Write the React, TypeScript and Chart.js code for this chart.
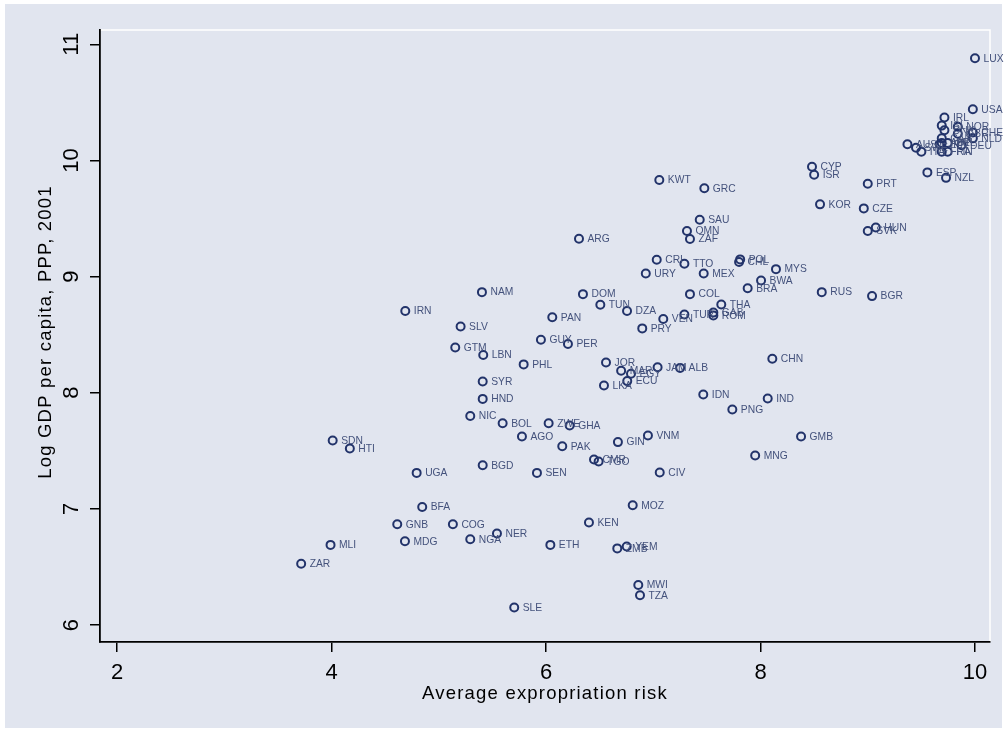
import React, { useEffect, useRef } from "react";
import { Chart, registerables } from "chart.js";

Chart.register(...registerables);

const countryCodes = [
  "LUX", "USA", "IRL", "ISL", "DNK", "NOR", "GBR", "CHE", "NLD", "CAN", "AUT", "BEL", "DEU", "JPN", "AUS", "SWE", "ITA", "FRA", "FIN",
  "ESP", "NZL", "PRT", "CYP", "ISR", "KWT", "GRC", "KOR", "CZE", "SAU", "OMN", "ZAF", "HUN", "SVK", "ARG",
  "CRI", "TTO", "POL", "CHL", "MYS", "URY", "MEX", "BWA", "BRA", "COL", "RUS", "BGR", "NAM", "DOM", "IRN",
  "TUN", "DZA", "THA", "TUR", "GAB", "ROM", "VEN", "PAN", "SLV", "PRY", "GUY", "PER", "GTM", "LBN", "PHL",
  "JOR", "MAR", "EGY", "JAM", "ALB", "CHN", "ECU", "LKA", "SYR", "IDN", "IND", "HND", "PNG", "NIC", "BOL",
  "ZWE", "GHA", "VNM", "AGO", "GMB", "SDN", "GIN", "PAK", "HTI", "MNG", "CMR", "TGO", "BGD", "UGA", "SEN",
  "CIV", "MOZ", "BFA", "KEN", "GNB", "COG", "NER", "NGA", "MDG", "MLI", "ETH", "ZMB", "YEM", "ZAR", "MWI",
  "TZA", "SLE",
];

const expropriationRisk = [
  10.0, 9.98, 9.715, 9.69, 9.715, 9.84, 9.84, 9.98, 9.98, 9.69, 9.69, 9.745, 9.875, 9.67, 9.37, 9.45, 9.5, 9.69, 9.745,
  9.556, 9.73, 9.0, 8.48, 8.5, 7.056, 7.476, 8.555, 8.963, 7.433, 7.314, 7.342, 9.075, 9.0, 6.307,
  7.032, 7.29, 7.81, 7.8, 8.144, 6.93, 7.47, 8.005, 7.88, 7.342, 8.571, 9.04, 5.402, 6.344, 4.687,
  6.506, 6.755, 7.634, 7.29, 7.56, 7.56, 7.093, 6.058, 5.203, 6.897, 5.952, 6.204, 5.153, 5.414, 5.791,
  6.559, 6.7, 6.792, 7.04, 7.25, 8.11, 6.757, 6.54, 5.409, 7.466, 8.067, 5.409, 7.737, 5.293, 5.595,
  6.024, 6.22, 6.95, 5.775, 8.378, 4.01, 6.67, 6.151, 4.17, 7.95, 6.447, 6.49, 5.409, 4.793, 5.915,
  7.06, 6.808, 4.845, 6.4, 4.612, 5.131, 5.542, 5.293, 4.684, 3.99, 6.04, 6.664, 6.752, 3.716, 6.86,
  6.876, 5.703,
];

const logGdp2001 = [
  10.88, 10.44, 10.37, 10.3, 10.26, 10.29, 10.23, 10.24, 10.19, 10.19, 10.15, 10.15, 10.13, 10.14, 10.14, 10.11, 10.075, 10.075, 10.075,
  9.897, 9.85, 9.8, 9.946, 9.877, 9.831, 9.76, 9.622, 9.587, 9.489, 9.392, 9.323, 9.423, 9.392, 9.326,
  9.145, 9.11, 9.148, 9.125, 9.064, 9.027, 9.027, 8.966, 8.9, 8.849, 8.866, 8.832, 8.866, 8.849, 8.703,
  8.757, 8.703, 8.76, 8.673, 8.69, 8.666, 8.635, 8.65, 8.571, 8.554, 8.456, 8.419, 8.39, 8.325, 8.244,
  8.261, 8.189, 8.163, 8.22, 8.214, 8.292, 8.1, 8.063, 8.097, 7.985, 7.951, 7.947, 7.856, 7.8, 7.738,
  7.738, 7.718, 7.632, 7.624, 7.624, 7.589, 7.575, 7.54, 7.52, 7.46, 7.425, 7.408, 7.376, 7.31, 7.31,
  7.314, 7.032, 7.017, 6.883, 6.868, 6.868, 6.788, 6.739, 6.722, 6.69, 6.69, 6.66, 6.676, 6.527, 6.345,
  6.257, 6.151,
];

const xTickValues = [2, 4, 6, 8, 10];
const yTickValues = [6, 7, 8, 9, 10, 11];
const xAxisTitle = "Average expropriation risk";
const yAxisTitle = "Log GDP per capita, PPP, 2001";

const BG = "#e1e5ef";
const MARKER = "#22336a";
const LABEL = "#44527c";
const FONT = '"Liberation Sans", Arial, Helvetica, sans-serif';

const decorPlugin = {
  id: "decor",
  beforeDraw(chart: any) {
    const { ctx, width, height, chartArea } = chart;
    ctx.save();
    ctx.fillStyle = "#ffffff";
    ctx.fillRect(0, 0, width, height);
    ctx.fillStyle = BG;
    ctx.fillRect(5, 4, width - 10, height - 9);
    ctx.strokeStyle = "#ffffff";
    ctx.lineWidth = 1.5;
    ctx.beginPath();
    ctx.moveTo(chartArea.left, chartArea.top);
    ctx.lineTo(chartArea.right, chartArea.top);
    ctx.lineTo(chartArea.right, chartArea.bottom);
    ctx.stroke();
    ctx.restore();
  },
  afterDatasetsDraw(chart: any) {
    const { ctx } = chart;
    const meta = chart.getDatasetMeta(0);
    ctx.save();
    ctx.font = `10.3px ${FONT}`;
    ctx.fillStyle = LABEL;
    ctx.textBaseline = "middle";
    ctx.textAlign = "left";
    meta.data.forEach((el: any, i: number) => {
      ctx.fillText(countryCodes[i], el.x + 8.5, el.y + 0.5);
    });
    ctx.restore();
  },
  afterDraw(chart: any) {
    const { ctx, chartArea } = chart;
    const yScale = chart.scales.y;
    ctx.save();
    ctx.fillStyle = "#000";
    ctx.font = `22px ${FONT}`;
    ctx.textAlign = "center";
    ctx.textBaseline = "middle";
    yTickValues.forEach((v) => {
      const py = yScale.getPixelForValue(v);
      ctx.save();
      ctx.translate(72, py);
      ctx.rotate(-Math.PI / 2);
      ctx.fillText(String(v), 0, 0);
      ctx.restore();
    });
    ctx.font = `18.5px ${FONT}`;
    (ctx as any).letterSpacing = "1.2px";
    ctx.fillText(xAxisTitle, (chartArea.left + chartArea.right) / 2, 694);
    ctx.save();
    ctx.translate(46, (chartArea.top + chartArea.bottom) / 2 - 4);
    ctx.rotate(-Math.PI / 2);
    ctx.fillText(yAxisTitle, 0, 0);
    ctx.restore();
    ctx.restore();
  },
};

export default function App() {
  const canvasRef = useRef<HTMLCanvasElement | null>(null);

  useEffect(() => {
    const canvas = canvasRef.current;
    if (!canvas) return;
    const points = expropriationRisk.map((x, i) => ({ x, y: logGdp2001[i] }));
    const chart = new Chart(canvas, {
      type: "scatter",
      data: {
        datasets: [
          {
            data: points,
            pointStyle: "circle",
            pointRadius: 4,
            pointHoverRadius: 4,
            pointBorderWidth: 2,
            pointBorderColor: MARKER,
            pointBackgroundColor: "rgba(0,0,0,0)",
          },
        ],
      },
      options: {
        responsive: false,
        animation: false,
        events: [],
        layout: { padding: { top: 30, right: 17, left: 0, bottom: 0 } },
        plugins: { legend: { display: false }, tooltip: { enabled: false }, title: { display: false } },
        scales: {
          x: {
            type: "linear",
            min: 1.84,
            max: 10.14,
            afterBuildTicks: (scale: any) => {
              scale.ticks = xTickValues.map((v) => ({ value: v }));
            },
            afterFit: (scale: any) => {
              scale.height = 91;
            },
            ticks: {
              color: "#000",
              font: { size: 22, family: FONT },
              padding: 8,
              maxRotation: 0,
              minRotation: 0,
            },
            grid: { drawOnChartArea: false, drawTicks: true, tickLength: 10, color: "#000", lineWidth: 1.5 },
            border: { display: true, color: "#000", width: 1.8 },
          },
          y: {
            type: "linear",
            min: 5.854,
            max: 11.123,
            afterBuildTicks: (scale: any) => {
              scale.ticks = yTickValues.map((v) => ({ value: v }));
            },
            afterFit: (scale: any) => {
              scale.width = 100;
            },
            ticks: { color: "rgba(0,0,0,0)", font: { size: 12, family: FONT } },
            grid: { drawOnChartArea: false, drawTicks: true, tickLength: 10, color: "#000", lineWidth: 1.5 },
            border: { display: true, color: "#000", width: 1.8 },
          },
        },
      },
      plugins: [decorPlugin],
    } as any);
    return () => chart.destroy();
  }, []);

  return (
    <div style={{ position: "absolute", left: 0, top: 0, width: 1007, height: 733 }}>
      <canvas ref={canvasRef} width={1007} height={733} style={{ display: "block" }} />
    </div>
  );
}
